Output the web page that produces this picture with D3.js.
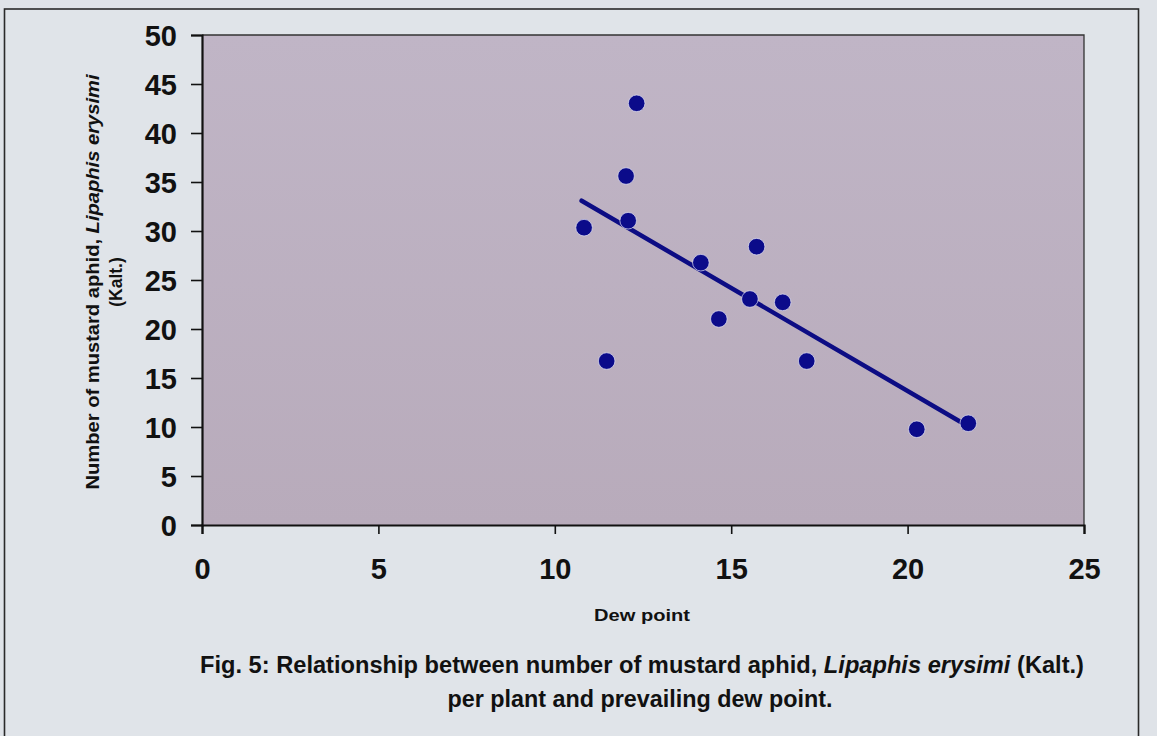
<!DOCTYPE html>
<html>
<head>
<meta charset="utf-8">
<script src="https://cdn.jsdelivr.net/npm/d3@7/dist/d3.min.js"></script>
<style>
  html, body { margin: 0; padding: 0; background: #dfe3e8; }
  svg { display: block; }
  text { font-family: "Liberation Sans", Arial, sans-serif; font-weight: bold; fill: #111; }
</style>
</head>
<body>
<svg id="chart" width="1157" height="736"></svg>
<script>
// ---- data ----
const dewPoint = [10.83, 11.47, 12.02, 12.08, 12.32, 14.14, 14.65, 15.53, 15.72, 16.46, 17.14, 20.26, 21.72];
const aphids   = [30.34, 16.73, 35.61, 31.05, 43.03, 26.77, 21.02, 23.06, 28.40, 22.72, 16.73, 9.77, 10.38];
const trendX = [10.76, 21.70];
const trendY = [33.09, 10.10];
const xTicks = [0, 5, 10, 15, 20, 25];
const yTicks = [0, 5, 10, 15, 20, 25, 30, 35, 40, 45, 50];
const xTitle = "Dew point";
const yTitleLine1 = ["Number of mustard aphid, ", "Lipaphis erysimi"];
const yTitleLine2 = "(Kalt.)";
const captionLine1 = ["Fig. 5: Relationship between number of mustard aphid, ", "Lipaphis erysimi", "  (Kalt.)"];
const captionLine2 = "per plant and prevailing dew point.";

const svg = d3.select("#chart");
const plot = { left: 202, right: 1084, top: 35, bottom: 525 };

const x = d3.scaleLinear().domain([0, 25]).range([plot.left, plot.right]);
const y = d3.scaleLinear().domain([0, 50]).range([plot.bottom, plot.top]);

// outer frame
svg.append("rect").attr("x", 4.5).attr("y", 9).attr("width", 1134).attr("height", 760)
  .attr("fill", "#e0e4e9").attr("stroke", "#2a2a2a").attr("stroke-width", 1.6);

// plot background gradient
const defs = svg.append("defs");
const grad = defs.append("linearGradient").attr("id", "pbg").attr("x1", 0).attr("y1", 0).attr("x2", 0).attr("y2", 1);
grad.append("stop").attr("offset", "0%").attr("stop-color", "#c0b5c6");
grad.append("stop").attr("offset", "100%").attr("stop-color", "#b8abbb");

svg.append("rect").attr("x", plot.left).attr("y", plot.top)
  .attr("width", plot.right - plot.left).attr("height", plot.bottom - plot.top)
  .attr("fill", "url(#pbg)");

// top and right border of plot area
svg.append("path")
  .attr("d", `M${plot.left},${plot.top}H${plot.right}V${plot.bottom}`)
  .attr("fill", "none").attr("stroke", "#333").attr("stroke-width", 1.3);

// axes
const xAxis = svg.append("g").attr("transform", `translate(0,${plot.bottom})`)
  .call(d3.axisBottom(x).tickValues(xTicks).tickFormat(d3.format("d")).tickSize(9).tickPadding(26));
const yAxis = svg.append("g").attr("transform", `translate(${plot.left},0)`)
  .call(d3.axisLeft(y).tickValues(yTicks).tickFormat(d3.format("d")).tickSize(11).tickPadding(14));

[xAxis, yAxis].forEach(g => {
  g.select(".domain").attr("stroke", "#111").attr("stroke-width", 2.2);
  g.selectAll(".tick line").attr("stroke", "#111").attr("stroke-width", 1.6);
  g.selectAll(".tick text")
    .style("font-family", "'Liberation Sans', Arial, sans-serif")
    .style("font-weight", "bold")
    .style("font-size", "29px")
    .attr("fill", "#111");
});
xAxis.selectAll(".tick text").attr("dy", "0.35em").attr("y", 44);
yAxis.selectAll(".tick text").attr("dy", "0.36em");

// trend line
svg.append("line")
  .attr("x1", x(trendX[0])).attr("y1", y(trendY[0]))
  .attr("x2", x(trendX[1])).attr("y2", y(trendY[1]))
  .attr("stroke", "#0c0c84").attr("stroke-width", 4.5).attr("stroke-linecap", "round");

// points
svg.append("g").selectAll("circle")
  .data(dewPoint.map((d, i) => [d, aphids[i]]))
  .join("circle")
  .attr("cx", d => x(d[0])).attr("cy", d => y(d[1]))
  .attr("r", 8.3)
  .attr("fill", "#0b0b8a")
  .attr("stroke", "rgba(225,225,245,0.7)").attr("stroke-width", 1);

// x title
svg.append("text").attr("x", 642).attr("y", 621).attr("text-anchor", "middle")
  .style("font-size", "17px").attr("textLength", 96).attr("lengthAdjust", "spacingAndGlyphs")
  .text(xTitle);

// y title (two lines, rotated)
const yt1 = svg.append("text").attr("transform", "translate(99,282) rotate(-90)")
  .attr("text-anchor", "middle").style("font-size", "17.5px")
  .attr("textLength", 415).attr("lengthAdjust", "spacingAndGlyphs");
yt1.append("tspan").text(yTitleLine1[0]);
yt1.append("tspan").style("font-style", "italic").text(yTitleLine1[1]);
svg.append("text").attr("transform", "translate(122,282) rotate(-90)")
  .attr("text-anchor", "middle").style("font-size", "17.5px").text(yTitleLine2);

// caption
const c1 = svg.append("text").attr("x", 642).attr("y", 673).attr("text-anchor", "middle")
  .style("font-size", "23px").attr("textLength", 884).attr("lengthAdjust", "spacingAndGlyphs");
c1.append("tspan").text(captionLine1[0]);
c1.append("tspan").style("font-style", "italic").text(captionLine1[1]);
c1.append("tspan").text(captionLine1[2]);
svg.append("text").attr("x", 640).attr("y", 707).attr("text-anchor", "middle")
  .style("font-size", "23px").attr("textLength", 385).attr("lengthAdjust", "spacingAndGlyphs")
  .text(captionLine2);
</script>
</body>
</html>
